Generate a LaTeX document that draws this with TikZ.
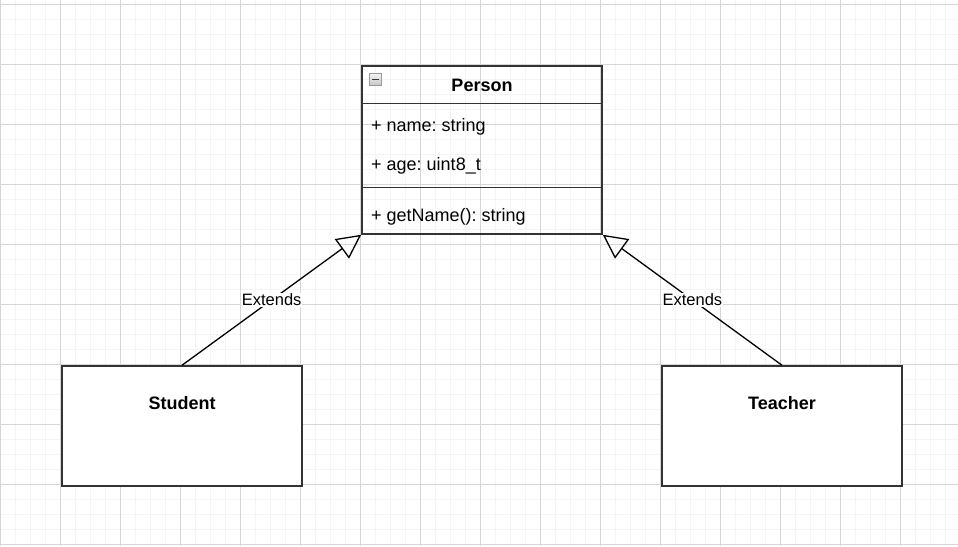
\documentclass[tikz,border=0pt]{standalone}
\usepackage{fontspec}
\setmainfont{Liberation Sans}
\usetikzlibrary{arrows.meta}
\definecolor{boxline}{HTML}{333333}
\definecolor{gridmajor}{HTML}{D6D6D6}
\definecolor{gridminor}{HTML}{F4F4F4}
\frenchspacing

\begin{document}
\begin{tikzpicture}[x=1pt, y=-1pt,
    classbox/.style={draw=boxline, line width=1.5pt, minimum width=240pt, inner sep=0pt},
    member/.style={anchor=base west, inner sep=0pt, font=\fontsize{18}{21}\selectfont},
    classname/.style={anchor=base, inner sep=0pt, font=\bfseries\fontsize{18}{21}\selectfont},
    extends/.style={line width=1.3pt, -{Triangle[open, length=24pt, width=24pt]}},
    edgelabel/.style={fill=white, inner sep=1pt, font=\fontsize{16.5}{19}\selectfont}]

        % grid
        \useasboundingbox (0,0) rectangle (958,546);
        \foreach \x in {0,15,...,958} \draw[gridminor, line width=1pt] (\x,0) -- (\x,546);
        \foreach \y in {4,19,...,546} \draw[gridminor, line width=1pt] (0,\y) -- (958,\y);
        \foreach \x in {0,60,...,958} \draw[gridmajor, line width=1pt] (\x,0) -- (\x,546);
        \foreach \y in {4,64,...,546} \draw[gridmajor, line width=1pt] (0,\y) -- (958,\y);

        % Person
        \node[classbox, minimum height=168pt] (person) at (482,150) {};
        \draw[boxline, line width=1.5pt] ([yshift=-38pt]person.north west) -- ([yshift=-38pt]person.north east);
        \draw[boxline, line width=1.5pt] ([yshift=-122pt]person.north west) -- ([yshift=-122pt]person.north east);
        \node[draw=gray!80, top color=gray!10, bottom color=gray!45, minimum size=12pt, inner sep=0pt] (collapse) at (375.5,79.5) {};
        \draw[line width=1.5pt, black!80] ([xshift=-3.5pt]collapse.center) -- ([xshift=3.5pt]collapse.center);
        \node[classname] (persontitle) at (482,91.5) {Person};
        \node[member] (name) at (371,131) {+ name: string};
        \node[member] (age) at (371,170) {+ age: uint8\_t};
        \node[member] (getname) at (371,221) {+ getName(): string};

        % subclasses
        \node[classbox, fill=white, minimum height=120pt] (student) at (182,426) {};
        \node[classname] (studenttitle) at (182,409) {Student};
        \node[classbox, fill=white, minimum height=120pt] (teacher) at (782,426) {};
        \node[classname] (teachertitle) at (782,409) {Teacher};

        \draw[extends] (student.north) -- (person.south west) node[midway, edgelabel] (extleft) {Extends};
        \draw[extends] (teacher.north) -- (person.south east) node[midway, edgelabel] (extright) {Extends};
    \end{tikzpicture}
\end{document}
